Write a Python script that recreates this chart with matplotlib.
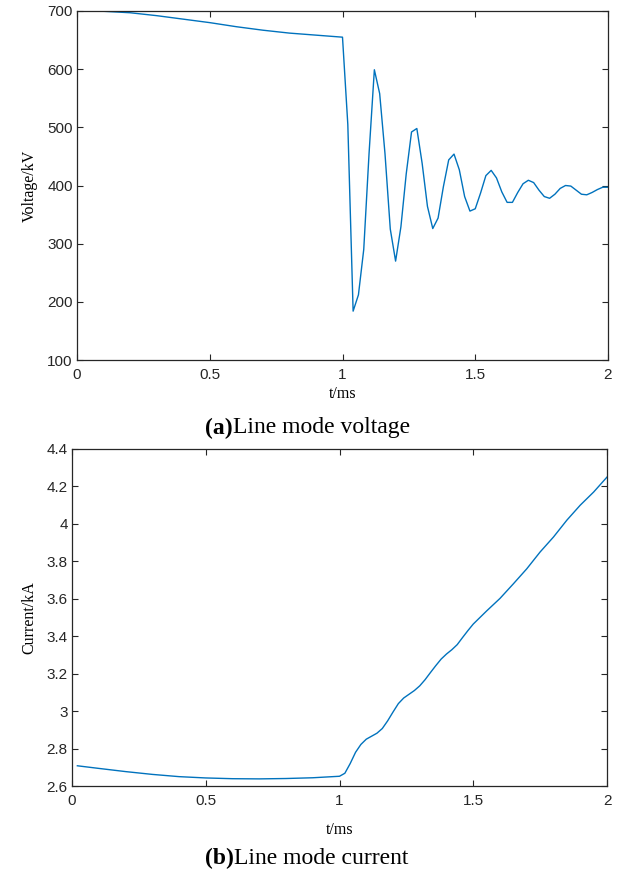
import matplotlib
matplotlib.use("Agg")
import matplotlib.pyplot as plt

# ---- data: line-mode voltage (kV) ----
t_v = [0.0, 0.1, 0.2, 0.3, 0.4, 0.5, 0.6, 0.7, 0.8, 0.9, 1.0,
       1.02, 1.04, 1.06, 1.08, 1.10, 1.12, 1.14, 1.16, 1.18, 1.20,
       1.22, 1.24, 1.26, 1.28, 1.30, 1.32, 1.34, 1.36, 1.38, 1.40,
       1.42, 1.44, 1.46, 1.48, 1.50, 1.52, 1.54, 1.56, 1.58, 1.60,
       1.62, 1.64, 1.66, 1.68, 1.70, 1.72, 1.74, 1.76, 1.78, 1.80,
       1.82, 1.84, 1.86, 1.88, 1.90, 1.92, 1.94, 1.96, 1.98, 2.00]
voltage = [700, 699.5, 697, 692, 686, 680, 673, 667, 662, 658.5, 655,
           505, 184, 212, 290, 455, 599, 558, 455, 325, 270,
           329, 420, 492, 498, 438, 364, 326, 344, 398, 444,
           454, 427, 381, 356, 360, 387, 417, 426, 413, 389,
           371, 371, 388, 403, 409, 405, 392, 381, 378, 385,
           395, 400, 399, 392, 385, 384, 388, 393, 397, 397]

# ---- data: line-mode current (kA) ----
t_i = [0.02, 0.1, 0.2, 0.3, 0.4, 0.5, 0.6, 0.7, 0.8, 0.9, 1.0,
       1.02, 1.04, 1.06, 1.08, 1.10, 1.12, 1.14, 1.16, 1.18, 1.20,
       1.22, 1.24, 1.26, 1.28, 1.30, 1.32, 1.34, 1.36, 1.38, 1.40,
       1.42, 1.44, 1.46, 1.48, 1.50, 1.55, 1.60, 1.65, 1.70, 1.75,
       1.80, 1.85, 1.90, 1.95, 2.00]
current = [2.708, 2.694, 2.677, 2.662, 2.650, 2.643, 2.639, 2.638, 2.640, 2.644, 2.652,
           2.668, 2.720, 2.780, 2.822, 2.850, 2.866, 2.882, 2.907, 2.948, 2.995,
           3.040, 3.070, 3.090, 3.110, 3.135, 3.168, 3.206, 3.243, 3.278, 3.305,
           3.328, 3.355, 3.393, 3.430, 3.465, 3.535, 3.602, 3.680, 3.760, 3.850,
           3.930, 4.020, 4.100, 4.170, 4.250]

x_ticks = [0, 0.5, 1, 1.5, 2]
x_ticklabels = ["0", "0.5", "1", "1.5", "2"]
v_ticks = [100, 200, 300, 400, 500, 600, 700]
i_ticks = [2.6, 2.8, 3.0, 3.2, 3.4, 3.6, 3.8, 4.0, 4.2, 4.4]
i_ticklabels = ["2.6", "2.8", "3", "3.2", "3.4", "3.6", "3.8", "4", "4.2", "4.4"]

W, H = 627, 877
fig = plt.figure(figsize=(W / 100, H / 100), dpi=100)
fig.patch.set_facecolor("white")

line_color = "#0072BD"
axis_color = "#262626"
tick_family = ["Liberation Sans", "DejaVu Sans"]
serif = ["Liberation Serif", "DejaVu Serif"]


def style(ax):
    for s in ax.spines.values():
        s.set_color(axis_color)
        s.set_linewidth(0.9)
    ax.tick_params(direction="in", top=True, right=True, length=4,
                   width=0.8, color=axis_color, labelcolor=axis_color)
    ax.tick_params(axis="x", pad=6)
    ax.tick_params(axis="y", pad=3)
    for lab in ax.get_xticklabels() + ax.get_yticklabels():
        lab.set_family(tick_family)
        lab.set_fontsize(11)


ax1 = fig.add_axes([77 / W, 1 - 360 / H, (608 - 77) / W, 349 / H])
ax1.plot(t_v, voltage, color=line_color, lw=1.0)
ax1.set_xlim(0, 2)
ax1.set_ylim(100, 700)
ax1.set_xticks(x_ticks)
ax1.set_xticklabels(x_ticklabels)
ax1.set_yticks(v_ticks)
style(ax1)
ax1.set_ylabel("Voltage/kV", family=serif, fontsize=11.5, labelpad=7)
ax1.set_xlabel("t/ms", family=serif, fontsize=11.5, labelpad=3)

ax2 = fig.add_axes([72 / W, 1 - 786 / H, (607 - 72) / W, 337 / H])
ax2.plot(t_i, current, color=line_color, lw=1.0)
ax2.set_xlim(0, 2)
ax2.set_ylim(2.6, 4.4)
ax2.set_xticks(x_ticks)
ax2.set_xticklabels(x_ticklabels)
ax2.set_yticks(i_ticks)
ax2.set_yticklabels(i_ticklabels)
style(ax2)
ax2.set_ylabel("Current/kA", family=serif, fontsize=11.5, labelpad=7)
ax2.set_xlabel("t/ms", family=serif, fontsize=11.5, labelpad=10)

# captions with bold prefix
fig.canvas.draw()
renderer = fig.canvas.get_renderer()


def caption(x_px, y_px, prefix, rest):
    t1 = fig.text(x_px / W, 1 - y_px / H, prefix, family=serif, fontsize=17,
                  fontweight="bold", ha="left", va="center")
    bb = t1.get_window_extent(renderer=renderer)
    fig.text(bb.x1 / W, 1 - y_px / H, rest, family=serif, fontsize=17,
             ha="left", va="center")


caption(205, 428, "(a)", "Line mode voltage")
caption(205, 858, "(b)", "Line mode current")

fig.savefig("out.png", dpi=100)
